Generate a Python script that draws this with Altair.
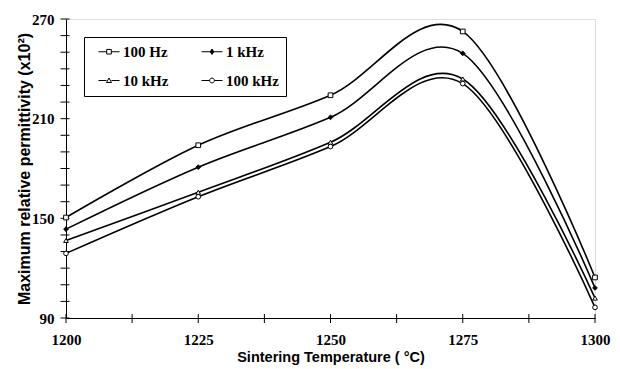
import altair as alt
import pandas as pd

temps = [1200, 1225, 1250, 1275, 1300]
series_names = ["100 Hz", "1 kHz", "10 kHz", "100 kHz"]
v_100hz = [150.5, 194.0, 224.1, 262.5, 114.4]
v_1khz = [143.5, 180.8, 210.8, 249.3, 108.1]
v_10khz = [136.7, 165.7, 195.8, 233.9, 102.0]
v_100khz = [128.9, 163.0, 193.2, 231.1, 96.4]
y_ticks = list(range(90, 271, 10))
x_ticks = [1200, 1212.5, 1225, 1237.5, 1250, 1262.5, 1275, 1287.5, 1300]

rows = []
for name, vals in zip(series_names, [v_100hz, v_1khz, v_10khz, v_100khz]):
    for t, v in zip(temps, vals):
        rows.append({"T": t, "eps": v, "series": name})
df = pd.DataFrame(rows)

marker_shapes = ["square", "diamond", "triangle-up", "circle"]
marker_fills = ["white", "black", "white", "white"]
marker_strokes = ["black", "black", "black", "black"]
# legend glyphs: short line with marker in the middle (units of symbol radius)
legend_paths = [
    "M0,0H1.64M2.56,0H4.2M1.64,-0.46H2.56V0.46H1.64Z",
    "M0,0H4.2M2.1,-0.55L2.45,0L2.1,0.55L1.75,0Z",
    "M0,0H1.6M2.6,0H4.2M2.1,-0.5L2.6,0.4H1.6Z",
    "M0,0H1.62M2.58,0H4.2M2.58,0A0.48,0.48 0 1,1 1.62,0A0.48,0.48 0 1,1 2.58,0Z",
]

xscale = alt.Scale(domain=[1200, 1300], nice=False, zero=False)
yscale = alt.Scale(domain=[90, 270], nice=False, zero=False)

xax = alt.Axis(
    values=[1200, 1225, 1250, 1275, 1300], format="d", ticks=False, grid=False,
    labelFlush=False, labelFont="Liberation Serif", labelFontWeight="bold", labelFontSize=15,
    labelColor="black", labelPadding=14, domainColor="black", domainWidth=1,
    title="Sintering Temperature ( °C)", titleFont="Liberation Sans",
    titleFontWeight="bold", titleFontSize=14.5, titleColor="black", titlePadding=3,
)
yax = alt.Axis(
    values=[90, 150, 210, 270], ticks=False, grid=False,
    labelFlush=False, labelFont="Liberation Serif", labelFontWeight="bold", labelFontSize=15,
    labelColor="black", labelPadding=12, domainColor="black", domainWidth=1,
    title="Maximum relative permittivity (x10²)", titleFont="Liberation Sans",
    titleFontWeight="bold", titleFontSize=16, titleColor="black", titlePadding=-1,
)

legend_props = dict(
    title=None, orient="none", legendX=18, legendY=18, direction="horizontal",
    columns=2, symbolSize=100, symbolStrokeColor="black", symbolStrokeWidth=1,
    symbolOpacity=1,
    labelFont="Liberation Serif", labelFontWeight="bold", labelFontSize=15,
    labelColor="black", labelOffset=17, columnPadding=25, rowPadding=13,
    padding=7, strokeColor="black", fillColor="white",
)

base = alt.Chart(df)
lines = base.mark_line(interpolate="cardinal", color="black", strokeWidth=1.6).encode(
    x=alt.X("T:Q", scale=xscale, axis=xax),
    y=alt.Y("eps:Q", scale=yscale, axis=yax),
    detail="series:N",
)
points = base.mark_point(filled=True, stroke="black", strokeWidth=1, size=22, opacity=1).encode(
    x=alt.X("T:Q", scale=xscale),
    y=alt.Y("eps:Q", scale=yscale),
    shape=alt.Shape("series:N", scale=alt.Scale(domain=series_names, range=marker_shapes), legend=None),
    fill=alt.Fill("series:N", scale=alt.Scale(domain=series_names, range=marker_fills), legend=None),
)
legend_layer = base.transform_filter("false").mark_point(
    filled=True, strokeWidth=1, size=100, opacity=1
).encode(
    x=alt.X("T:Q", scale=xscale),
    y=alt.Y("eps:Q", scale=yscale),
    shape=alt.Shape("series:N", scale=alt.Scale(domain=series_names, range=legend_paths),
                    legend=alt.Legend(**legend_props)),
    fill=alt.Fill("series:N", scale=alt.Scale(domain=series_names, range=marker_fills),
                  legend=alt.Legend(**legend_props)),
    stroke=alt.Stroke("series:N", scale=alt.Scale(domain=series_names, range=marker_strokes),
                      legend=alt.Legend(**legend_props)),
)

ydf = pd.DataFrame({"v": y_ticks})
xdf = pd.DataFrame({"v": x_ticks})
yticks = alt.Chart(ydf).mark_tick(color="black", thickness=1, size=9, orient="horizontal",
                                  opacity=1).encode(
    y=alt.Y("v:Q", scale=yscale), x=alt.value(-1)
)
xticks = alt.Chart(xdf).mark_rule(color="black", strokeWidth=1).encode(
    x=alt.X("v:Q", scale=xscale), y=alt.value(295), y2=alt.value(304)
)

chart = alt.layer(lines, yticks, xticks, points, legend_layer).resolve_scale(
    shape="independent", fill="independent", stroke="independent"
).properties(
    width=529, height=299,
    autosize=alt.AutoSizeParams(type="none"),
    padding={"left": 66, "top": 19, "right": 25, "bottom": 51},
).configure_view(stroke=None).configure(background="white")

chart.save("out.html", embed_options={"renderer": "svg", "actions": False})
